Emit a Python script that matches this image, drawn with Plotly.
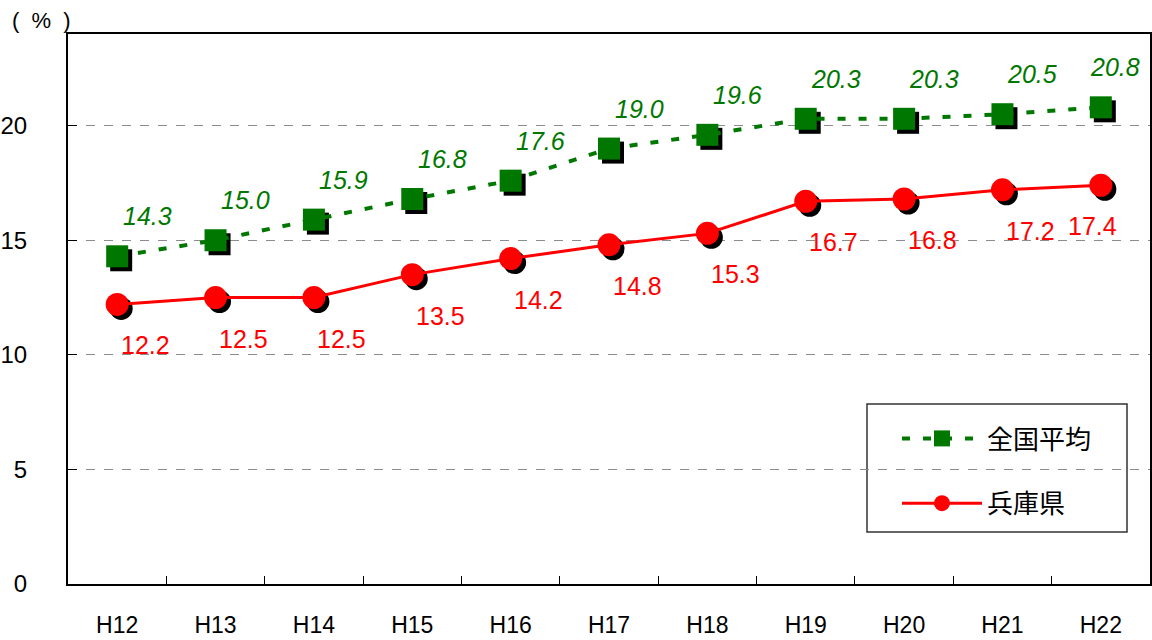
import plotly.graph_objects as go

years = ["H12", "H13", "H14", "H15", "H16", "H17", "H18", "H19", "H20", "H21", "H22"]
national = [14.3, 15.0, 15.9, 16.8, 17.6, 19.0, 19.6, 20.3, 20.3, 20.5, 20.8]
hyogo = [12.2, 12.5, 12.5, 13.5, 14.2, 14.8, 15.3, 16.7, 16.8, 17.2, 17.4]
name_national = "全国平均"
name_hyogo = "兵庫県"

GREEN = "#007800"
RED = "#ff0000"
FONT = "Liberation Sans, Arial, Noto Sans CJK JP, sans-serif"
CJK = "Noto Sans CJK JP, sans-serif"

W, H = 1152, 640
ML, MR, MT, MB = 68, 2, 34, 56
YMAX = 24
pw = W - ML - MR
ph = H - MT - MB
n = len(years)
px_per_cat = pw / n
px_per_unit = ph / YMAX
shadow_px = 4
dx = shadow_px / px_per_cat
dy = shadow_px / px_per_unit


def px_x(p):
    return (p - ML) / pw


def px_y(p):
    return (H - MB - p) / ph


fig = go.Figure()

# shadows
fig.add_trace(go.Scatter(x=years, y=national, mode="markers", xaxis="x2", yaxis="y2",
                         marker=dict(symbol="square", size=22, color="black"),
                         showlegend=False, hoverinfo="skip"))
fig.add_trace(go.Scatter(x=years, y=hyogo, mode="markers", xaxis="x2", yaxis="y2",
                         marker=dict(symbol="circle", size=23, color="black"),
                         showlegend=False, hoverinfo="skip"))
# main series
fig.add_trace(go.Scatter(x=years, y=national, mode="lines+markers", name=name_national,
                         xaxis="x3", yaxis="y3", legendgroup="a",
                         line=dict(color=GREEN, width=4, dash="8px,13px"),
                         marker=dict(symbol="square", size=22, color=GREEN)))
fig.add_trace(go.Scatter(x=years, y=hyogo, mode="lines+markers", name=name_hyogo,
                         xaxis="x3", yaxis="y3", legendgroup="b",
                         line=dict(color=RED, width=3),
                         marker=dict(symbol="circle", size=23, color=RED)))

annotations = []
for i, (c, v) in enumerate(zip(years, national)):
    annotations.append(dict(x=c, y=v, xref="x", yref="y", text=f"{v:.1f}", showarrow=False,
                            xshift=30 if i < n - 1 else 14, yshift=40,
                            font=dict(family=FONT, size=25, color=GREEN, style="italic")))
for i, (c, v) in enumerate(zip(years, hyogo)):
    annotations.append(dict(x=c, y=v, xref="x", yref="y", text=f"{v:.1f}", showarrow=False,
                            xshift=28 if i < n - 1 else -8, yshift=-41,
                            font=dict(family=FONT, size=25, color=RED)))
annotations.append(dict(x=px_x(10), y=px_y(20), xref="paper", yref="paper",
                        text="(&nbsp;&nbsp;%&nbsp;&nbsp;)", showarrow=False,
                        xanchor="left", yanchor="middle",
                        font=dict(family=FONT, size=22, color="black")))

xr = [-0.5, n - 0.5]
fig.update_layout(
    width=W, height=H,
    margin=dict(l=ML, r=MR, t=MT, b=MB, autoexpand=False),
    paper_bgcolor="white", plot_bgcolor="white",
    font=dict(family=FONT, color="black"),
    xaxis=dict(type="category", categoryorder="array", categoryarray=years, range=xr,
               showline=True, linecolor="black", linewidth=2, mirror=True,
               ticks="inside", ticklen=8, tickcolor="black", tickson="boundaries",
               showgrid=False, tickfont=dict(size=23), ticklabelstandoff=19,
               automargin=False),
    yaxis=dict(range=[0, YMAX], tickvals=[0, 5, 10, 15, 20],
               showline=True, linecolor="black", linewidth=2, mirror=True,
               ticks="inside", ticklen=9, tickcolor="black",
               showgrid=True, gridcolor="#8c8c8c", gridwidth=1, griddash="dash",
               zeroline=False, tickfont=dict(size=24), ticklabelstandoff=34,
               automargin=False),
    xaxis2=dict(type="category", categoryorder="array", categoryarray=years,
                overlaying="x", range=[xr[0] - dx, xr[1] - dx], visible=False),
    yaxis2=dict(overlaying="y", range=[dy, YMAX + dy], visible=False),
    xaxis3=dict(type="category", categoryorder="array", categoryarray=years,
                overlaying="x", range=xr, visible=False),
    yaxis3=dict(overlaying="y", range=[0, YMAX], visible=False),
    legend=dict(x=px_x(897), y=px_y(415), xanchor="left", yanchor="top",
                bgcolor="rgba(0,0,0,0)", borderwidth=0, itemwidth=80,
                traceorder="grouped", tracegroupgap=28,
                font=dict(family=CJK, size=26, color="black")),
    shapes=[dict(type="rect", xref="paper", yref="paper",
                 x0=px_x(867), x1=px_x(1127), y0=px_y(532), y1=px_y(404),
                 line=dict(color="#333333", width=1.5), fillcolor="white", layer="below")],
    annotations=annotations,
    showlegend=True,
)

fig.write_html("out.html", config={"displayModeBar": False},
               post_script="document.body.style.margin='0px';")
